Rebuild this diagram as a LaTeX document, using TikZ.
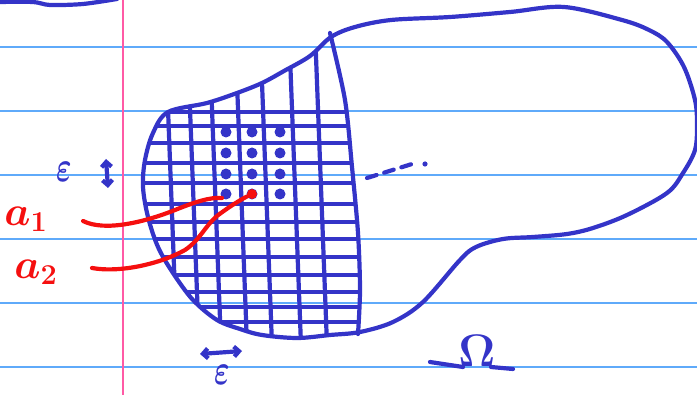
\documentclass[tikz,border=0pt]{standalone}
\usepackage{amsmath}
\usetikzlibrary{arrows.meta,positioning}
\definecolor{ink}{RGB}{52,52,200}
\definecolor{rulecol}{RGB}{95,170,250}
\definecolor{margincol}{RGB}{255,90,165}
\definecolor{redink}{RGB}{245,15,15}
\tikzset{
  rule line/.style={rulecol, line width=1.5pt},
  margin line/.style={margincol, line width=1.7pt},
  ink line/.style={ink, line width=4.2pt, line cap=round, line join=round},
  red line/.style={redink, line width=4.2pt, line cap=round, line join=round},
  grid dot/.style={circle, fill=ink, inner sep=0pt, minimum size=11pt},
  eps label/.style={ink, inner sep=0pt, font=\LARGE\boldmath, xscale=1.7, yscale=2.5},
  omega label/.style={ink, inner sep=0pt, font=\huge\boldmath, scale=2.2},
  red label/.style={redink, inner sep=0pt, font=\huge\boldmath, scale=2},
  barb/.style={{Straight Barb[length=5pt,width=10pt]}-{Straight Barb[length=5pt,width=10pt]}},
}
% outline of the region, in pixel coordinates
\newcommand{\regionpath}{plot[smooth cycle, tension=0.55] coordinates {
  (168,112) (207,103) (237,93) (262,83) (284,71) (310,56) (331,37)
  (355,27) (391,20) (450,17) (510,12) (564,7) (622,20) (649,30)
  (667,42) (684,67) (695,100) (697,125) (695,150) (683,173) (667,193)
  (627,215) (593,228) (567,234) (533,237) (503,239) (476,247) (460,260)
  (423,302) (393,322) (360,332) (330,335) (297,338) (262,335) (240,329)
  (217,320) (193,300) (173,273) (158,247) (148,217) (143,187) (145,160)
  (153,133)}}
\newcommand{\meshedge}{plot[smooth] coordinates {
  (330,33) (345,100) (352,167) (358,233) (360,290) (358,334)}}

\begin{document}
\begin{tikzpicture}[x=1pt, y=-1pt]
  \useasboundingbox (0,0) rectangle (697,395);
  % paper
  \foreach \y in {47,111,175,239,303,367} {
    \draw[rule line] (0,\y) -- (697,\y);
  }
  \draw[margin line] (123,0) -- (123,395);
  \draw[ink line] plot[smooth] coordinates {(-2,2) (33,2) (50,5) (83,4) (117,-1)};

  % mesh
  \begin{scope}
    \clip \regionpath;
    \clip (100,-5) -- (330,-5) -- plot[smooth] coordinates {
      (330,33) (345,100) (352,167) (358,233) (360,290) (358,334)}
      -- (362,400) -- (100,400) -- cycle;
    \foreach \x in {168,190,212,238,263,292,318} {
      \draw[ink line] ({\x-3},30) -- ({\x+9},345);
    }
    \foreach \y in {112,126,143,163,183,204,222,239,257,275,292,307,322} {
      \draw[ink line] (130,\y) -- (370,\y);
    }
  \end{scope}
  \draw[ink line] \regionpath;
  \draw[ink line] \meshedge;

  % points of the mesh
  \foreach \r/\y in {1/132,2/153,3/174,4/194} {
    \foreach \c/\x in {1/226,2/252,3/280} {
      \node[grid dot] (d\r\c) at (\x,\y) {};
    }
  }

  % dots
  \draw[ink line, dash pattern=on 10pt off 8pt] (367,178) -- (412,164);
  \fill[ink] (425,164) circle (2.6pt);

  % labels
  \node[eps label] (epsv) at (64,172) {$\varepsilon$};
  \coordinate (vt) at (106,159);
  \coordinate (vb) at (108,188);
  \draw[ink line, barb] (vt) -- (vb);
  \coordinate (hl) at (200,354);
  \coordinate (hr) at (242,351);
  \draw[ink line, barb] (hl) -- (hr);
  \node[eps label] (epsh) at (222,375) {$\varepsilon$};
  \node[omega label, anchor=base] (omega) at (477,367) {$\Omega$};
  \coordinate (oml) at (430,362);
  \coordinate (omr) at (513,369);
  \draw[ink line] (oml) -- ([xshift=5pt]omega.base west);
  \draw[ink line] ([xshift=-5pt]omega.base east) -- (omr);

  \node[red label] (a1) at (26,219) {$a_1$};
  \node[red label] (a2) at (36,272) {$a_2$};
  \coordinate (a1 tail) at (83,221);
  \coordinate (a2 tail) at (92,268);
  \draw[red line] (a1 tail) .. controls (105,232) and (145,222) .. (175,210)
    .. controls (195,202) and (210,197) .. (d41.south west);
  \draw[red line] (a2 tail) .. controls (120,273) and (160,264) .. (185,250)
    .. controls (200,240) and (205,226) .. (217,216)
    .. controls (230,206) and (242,199) .. (d42);
  \fill[redink] (d42) circle (5pt);
\end{tikzpicture}
\end{document}
